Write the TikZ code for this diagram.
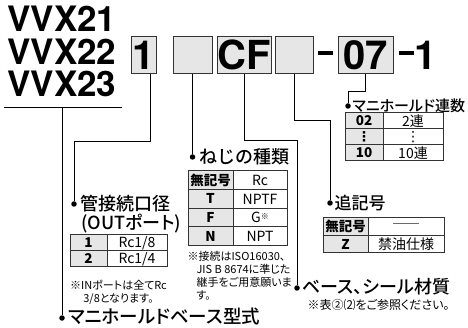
\documentclass[tikz,border=0pt]{standalone}
\usepackage{fontspec}
\setmainfont{TeX Gyre Heros}
\newfontfamily\jp[RawFeature=+palt]{Noto Sans CJK JP}
\newfontfamily\jpm[RawFeature=+palt]{Noto Sans CJK JP Medium}
\newfontfamily\jpmw{Noto Sans CJK JP Medium}
\newfontfamily\sym{DejaVu Sans}
\usepackage{tikz}
\definecolor{boxgray}{HTML}{E6E6E6}
\definecolor{rulegray}{HTML}{333333}
\tikzset{
  model/.style={font=\fontsize{35}{35}\selectfont\bfseries, inner sep=0pt, anchor=base west},
  codebox/.style={draw=rulegray, fill=boxgray, line width=0.9pt, minimum height=37pt, inner sep=0pt, font=\fontsize{40}{40}\selectfont\bfseries},
  codetext/.style={font=\fontsize{40}{40}\selectfont\bfseries, inner sep=0pt, anchor=base},
  dashbar/.style={fill=black, inner sep=0pt, minimum width=15pt, minimum height=3.5pt},
  ldot/.style={circle, fill=black, inner sep=0pt, minimum size=5.5pt},
  lbl/.style={font=\jpm\fontsize{#1}{#1}\selectfont, inner sep=0pt, anchor=west},
  lbl/.default=18,
  keycell/.style={draw=rulegray, fill=boxgray, inner sep=0pt, font=\jp\bfseries\fontsize{13.5}{13.5}\selectfont},
  valcell/.style={draw=rulegray, fill=white, inner sep=0pt, font=\jp\fontsize{14}{14}\selectfont},
  note/.style={font=\jp\fontsize{#1}{13}\selectfont, inner sep=0pt},
  note/.default=11,
}

\begin{document}
\begin{tikzpicture}[x=1pt, y=-1pt, line width=1pt]
\useasboundingbox (0,0) rectangle (468,328);

\node[model] (m1) at (7,32) {VVX21};
\node[model] (m2) at (7,64.5) {VVX22};
\node[model] (m3) at (7,97) {VVX23};
\coordinate (ul1) at (4,108);
\coordinate (ul2) at (122,108);
\coordinate (ul) at (62,108);
\draw (ul1) -- (ul2);

\node[codebox,minimum width=25pt] (b1) at (143.5,55) {1};
\node[codebox,minimum width=39pt] (b2) at (192.5,55) {};
\node[codebox,minimum width=54pt] (b3) at (244,55) {CF};
\node[codebox,minimum width=38pt] (b4) at (294,55) {};
\node[codebox,minimum width=55pt] (b5) at (365.5,55) {07};
\node[dashbar] (h1) at (325.5,53) {};
\node[dashbar] (h2) at (406,53) {};
\node[codetext] (s1) at (425.5,70) {1};

\node[ldot] (d1) at (74,204) {};
\node[ldot] (d2) at (192.5,157) {};
\node[ldot] (d3) at (297,288) {};
\node[ldot] (d4) at (330,203) {};
\node[ldot] (d5) at (348,106) {};
\node[ldot] (d6) at (62,318) {};

\node[lbl] (t1) at (80,204) {管接続口径};
\node[lbl] (t1b) at (81,224) {(OUTポート)};
\node[lbl, font=\jpmw\fontsize{18}{18}\selectfont] (t2) at (199,157) {ねじの種類};
\node[lbl] (t3) at (302,287) {ベース、シール材質};
\node[lbl=17] (t4) at (334,203) {追記号};
\node[lbl=15] (t5) at (352,106) {マニホールド連数};
\node[lbl=18.5] (t6) at (68,317) {マニホールドベース型式};

\draw (b1.south) ++(6.5,0) -- ++(0,67.5) -| (d1);
\draw (b2.south) -- (d2);
\draw (b3.south) -- ++(0,66.5) -| (d3);
\draw (b4.south) -- ++(0,46.5) -| (d4);
\draw (b5.south) -- ++(0,17.5) -| (d5);
\draw (ul) -- (d6);

% port size
\foreach \k/\v [count=\i] in {1/{Rc1/8},2/{Rc1/4}}{
  \node[keycell,minimum width=37pt,minimum height=16pt] (pk\i) at (88.5,227+16*\i) {\k};
  \node[valcell,minimum width=60pt,minimum height=16pt] (pv\i) at (137,227+16*\i) {\v};
}
% thread type
\foreach \k/\v [count=\i] in {無記号/Rc,T/NPTF,F/{G{\fontsize{8}{8}\selectfont\raisebox{3pt}{※}}},N/NPT}{
  \node[keycell,minimum width=45pt,minimum height=18.6pt] (tk\i) at (210.5,161.7+18.6*\i) {\k};
  \node[valcell,minimum width=54pt,minimum height=18.6pt] (tv\i) at (260,161.7+18.6*\i) {\v};
}
% manifold stations
\foreach \k/\v [count=\i] in {02/2連,{\sym ⋮}/{\sym ⋮},10/10連}{
  \node[keycell,minimum width=38pt,minimum height=16pt] (sk\i) at (364,105+16*\i) {\k};
  \node[valcell,minimum width=60pt,minimum height=16pt] (sv\i) at (413,105+16*\i) {\v};
}
% option
\foreach \k/\v [count=\i] in {無記号/――,Z/禁油仕様}{
  \node[keycell,minimum width=45pt,minimum height=17.5pt] (ok\i) at (345.5,209.25+17.5*\i) {\k};
  \node[valcell,minimum width=76pt,minimum height=17.5pt] (ov\i) at (406,209.25+17.5*\i) {\v};
}

\node[note,align=center] (n1) at (118.5,292) {※INポートは全てRc\\3/8となります。};
\node[note,align=left,anchor=north west] (n2) at (187,251) {※接続はISO16030、\\\hspace*{9pt}JIS B 8674に準じた\\\hspace*{9pt}継手をご用意願いま\\\hspace*{9pt}す。};
\node[note=12,anchor=west] (n3) at (307,305) {※表②⑵をご参照ください。};

\end{tikzpicture}
\end{document}
